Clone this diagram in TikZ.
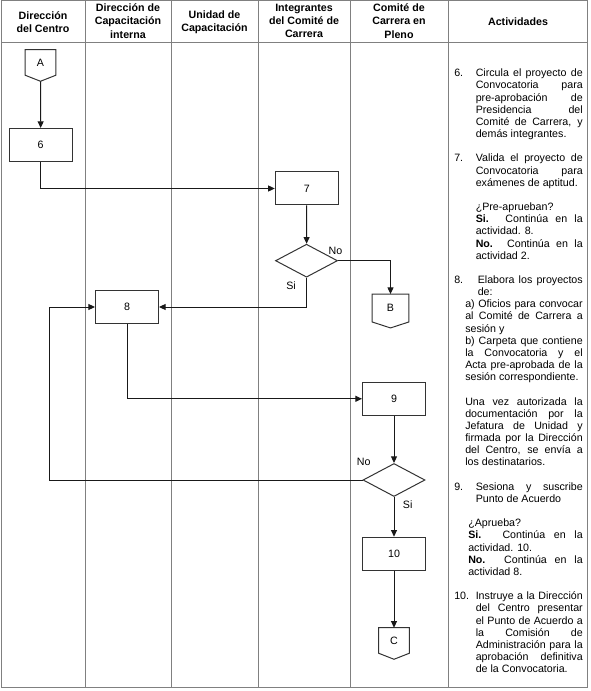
\documentclass[tikz,border=0pt]{standalone}
\usepackage{fontspec}
\setmainfont{Liberation Sans}
\usetikzlibrary{positioning}
\usetikzlibrary{shapes.geometric,arrows.meta}

\newcommand{\actfont}{\fontsize{8}{9.12}\selectfont\hyphenpenalty=10000\exhyphenpenalty=10000\tolerance=10000}

\begin{document}
\begin{tikzpicture}[x=0.75pt, y=-0.75pt,
laneline/.style={draw=black!50, line width=0.75pt},
lanehead/.style={align=center, inner sep=0pt, font=\fontsize{8}{10}\selectfont\bfseries},
box/.style={rectangle, draw=black!80, line width=0.75pt, minimum width=47.25pt, minimum height=24.75pt, inner sep=0pt, font=\fontsize{8}{9}\selectfont},
decision/.style={diamond, aspect=1.9, draw=black!80, line width=0.75pt, minimum width=46.5pt, minimum height=24.75pt, inner sep=0pt},
offpage/.style={rectangle, minimum width=22.5pt, minimum height=23.25pt, text depth=4.5pt, inner sep=0pt, font=\fontsize{8}{9}\selectfont},
flow/.style={draw=black!90, line width=0.75pt, -{Triangle[length=5pt,width=4.5pt]}},
lbl/.style={inner sep=0pt, font=\fontsize{8}{9}\selectfont},
num/.style={anchor=base west, inner sep=0pt, font=\actfont},
acttext/.style={anchor=base west, inner sep=0pt, text width=80.25pt, align=justify, font=\actfont},
]
\useasboundingbox (0,0) rectangle (590,691);

% table
\draw[laneline] (1,1) rectangle (587,687);
\draw[laneline] (1,43) -- (587,43);
\foreach \x in {85,171,258,350,448}
  \draw[laneline] (\x,1) -- (\x,687);

\node[lanehead] (h1) at (43,22) {Dirección\\del Centro};
\node[lanehead] (h2) at (128,21) {Dirección de\\Capacitación\\interna};
\node[lanehead] (h3) at (214.5,22) {Unidad de\\Capacitación};
\node[lanehead] (h4) at (304,21) {Integrantes\\del Comité de\\Carrera};
\node[lanehead] (h5) at (399,21) {Comité de\\Carrera en\\Pleno};
\node[lanehead] (h6) at (518,22) {Actividades};

% flow
\node[offpage] (A) at (40.5,65.5) {A};
\node[box] (p6) at (40.7,145) {6};
\node[box] (p7) at (306.8,188.5) {7};
\node[decision] (d7) at (306.5,260.7) {};
\node[offpage, minimum width=27.3pt, minimum height=25pt] (B) at (390.5,311) {B};
\node[box] (p8) at (127,307) {8};
\node[box] (p9) at (394,398.8) {9};
\node[decision] (d9) at (394,480) {};
\node[box] (p10) at (394,553.7) {10};
\node[offpage] (C) at (394,643.5) {C};
\coordinate (back) at (49.3,307);

\foreach \c in {A,B,C}
  \draw[draw=black!80, line width=0.75pt] (\c.north west) -- (\c.north east) -- ([yshift=4.5pt]\c.south east) -- (\c.south) -- ([yshift=4.5pt]\c.south west) -- cycle;

\node[lbl] (no7) at (335.5,250.7) {No};
\node[lbl] (si7) at (291,286) {Si};
\node[lbl] (no9) at (363.7,462) {No};
\node[lbl] (si9) at (407.7,504.7) {Si};

\draw[flow] (A) -- (p6);
\draw[flow] (p6) |- (p7);
\draw[flow] (p7) -- (d7);
\draw[flow] (d7) -| (B);
\draw[flow] (d7) |- (p8);
\draw[flow] (p8) |- (p9);
\draw[flow] (p9) -- (d9);
\draw[flow] (d9.west) -| (back) -- (p8.west);
\draw[flow] (d9) -- (p10);
\draw[flow] (p10) -- (C);

% actividades
\node[num] (n6) at (454,76.8) {6.};
\node[acttext] (act6) at (475.5,76.8) {Circula el proyecto de\linebreak Convocatoria para\linebreak pre-aprobación de\linebreak Presidencia del\linebreak Comité de Carrera, y\linebreak demás integrantes.};

\node[num] (n7) at (454,161.9) {7.};
\node[acttext] (act7) at (475.5,161.9) {Valida el proyecto de\linebreak Convocatoria para\linebreak exámenes de aptitud.\par\vspace{9.12pt}
¿Pre-aprueban?\par
\textbf{Si.} Continúa en la\linebreak actividad. 8.\par
\textbf{No.} Continúa en la\linebreak actividad 2.};

\node[num] (n8) at (454,283.5) {8.};
\node[acttext, text width=78.75pt] (act8) at (477.5,283.5) {Elabora los proyectos\linebreak de:};
\node[acttext, text width=88.1pt] (act8b) at (465,307.8) {a) Oficios para convocar\linebreak al Comité de Carrera a\linebreak sesión y\par
b) Carpeta que contiene\linebreak la Convocatoria y el\linebreak Acta pre-aprobada de la\linebreak sesión correspondiente.\par\vspace{9.12pt}
Una vez autorizada la\linebreak documentación por la\linebreak Jefatura de Unidad y\linebreak firmada por la Dirección\linebreak del Centro, se envía a\linebreak los destinatarios.};

\node[num] (n9) at (454,490.2) {9.};
\node[acttext] (act9) at (475.5,490.2) {Sesiona y suscribe\linebreak Punto de Acuerdo};
\node[acttext, text width=85.9pt] (act9b) at (468,526.7) {¿Aprueba?\par
\textbf{Si.} Continúa en la\linebreak actividad. 10.\par
\textbf{No.} Continúa en la\linebreak actividad 8.};

\node[num] (n10) at (454,599.7) {10.};
\node[acttext] (act10) at (475.5,599.7) {Instruye a la Dirección\linebreak del Centro presentar\linebreak el Punto de Acuerdo a\linebreak la Comisión de\linebreak Administración para la\linebreak aprobación definitiva\linebreak de la Convocatoria.};
\end{tikzpicture}
\end{document}
